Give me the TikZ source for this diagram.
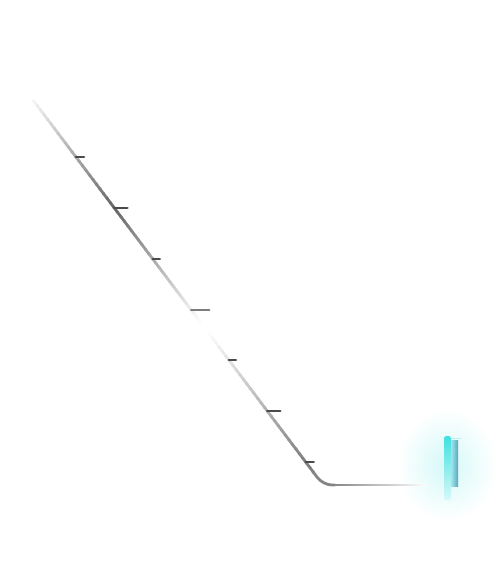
\documentclass[tikz,border=0pt]{standalone}
\usepackage{xcolor}
\usepackage{tikz}
\usetikzlibrary{
  calc,
  positioning
}
\definecolor{tickdark}{HTML}{4A4A4A}
\definecolor{ticklight}{HTML}{7C7C7C}
\definecolor{tipcyan}{HTML}{3FE0E0}
\definecolor{tipteal}{HTML}{5AA6BE}

\begin{document}
\begin{tikzpicture}[x=1pt,y=-1pt]
  \tikzset{
    rail/.style={line width=2.8pt,line cap=butt},
    tick/.style={line width=2.8pt,line cap=round,color=tickdark},
    longtick/.style={tick,color=ticklight},
  }
  \useasboundingbox (0,0) rectangle (501,579);

  \coordinate (top) at (33,100);
  \coordinate (corner) at (323,485);
  \coordinate (tip) at (447,465);

  % glow behind the tip
  \shade[inner color=tipcyan!22,outer color=white] (tip) ellipse (50 and 56);

  % diagonal rail, fading in and out
  \foreach \i in {0,...,79} {
    \pgfmathsetmacro\ta{\i/80*0.965}
    \pgfmathsetmacro\tb{(\i+1.3)/80*0.965}
    \pgfmathsetmacro\tm{(\i+0.5)/80*0.965}
    \pgfmathsetmacro\d{max(0,60*(1-abs(\tm-0.28)/0.3))+max(0,50*min(1,(\tm-0.6)/0.34))}
    \draw[rail,black!\d] ($(top)!\ta!(corner)$) -- ($(top)!\tb!(corner)$);
  }
  \draw[rail,black!48,rounded corners=9pt]
    ($(top)!0.964!(corner)$) -- (corner) -- ++(12,0);
  \foreach \i in {0,...,39} {
    \pgfmathsetmacro\d{46*(1-\i/40)}
    \draw[rail,black!\d] ($(corner)+(12+\i*2.3,0)$) -- ++(2.6,0);
  }

  % ticks on the rail
  \foreach \y/\l in {157/8,208/13,259/7,360/7,411/13,462/8} {
    \draw[tick] ($(top)!{(\y-100)/385}!(corner)$) coordinate (t\y) -- ++(\l,0);
  }
  \draw[longtick] ($(top)!{210/385}!(corner)$) coordinate (t310) -- ++(18,0);

  % cyan tip
  \shade[left color=tipcyan!45,right color=tipteal] (450,440) rectangle (458,486);
  \draw[line width=1pt,tipcyan!35] (451,438) -- (461,438);
  \shade[top color=tipcyan,bottom color=tipcyan!20,rounded corners=2.5pt]
    (444,500) -- (444,436) -- (451,436) -- (451,500) -- cycle;
\end{tikzpicture}
\end{document}
